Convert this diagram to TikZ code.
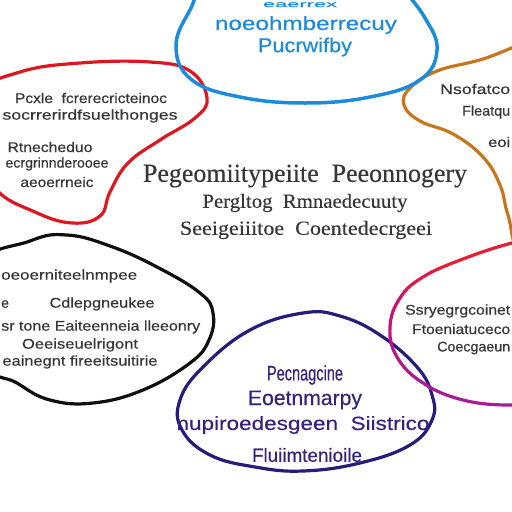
\documentclass[tikz,border=0pt]{standalone}
\usepackage{fontspec}
\setmainfont{Liberation Serif}[FakeBold=0.3]
\setsansfont{Liberation Sans}[FakeBold=0.4]
\usepackage{graphicx}
\definecolor{bluec}{RGB}{28,140,218}
\definecolor{redc}{RGB}{222,22,32}
\definecolor{orangec}{RGB}{200,118,30}
\definecolor{blackc}{RGB}{15,15,15}
\definecolor{navyc}{RGB}{38,28,122}
\definecolor{navytxt}{RGB}{55,35,125}
\definecolor{txtgrey}{RGB}{55,55,55}
\definecolor{mag1}{RGB}{232,30,50}
\definecolor{mag2}{RGB}{222,25,75}
\definecolor{mag3}{RGB}{208,20,100}
\definecolor{mag4}{RGB}{195,20,125}
\definecolor{mag5}{RGB}{180,25,140}
\definecolor{mag6}{RGB}{165,30,150}
\newcommand{\fw}[2]{\resizebox{#1}{\height}{#2}}
\newcommand{\fs}[1]{\fontsize{#1}{#1}\selectfont}
\begin{document}
\begin{tikzpicture}[x=1pt,y=-1pt,
  blob/.style={line width=3.2pt},
  lbl/.style={inner sep=0pt, text=txtgrey, font=\sffamily\fs{14}},
  ctr/.style={inner sep=0pt, text=txtgrey, font=\rmfamily},
  bluetxt/.style={inner sep=0pt, text=bluec, font=\sffamily},
  navytx/.style={inner sep=0pt, text=navytxt, font=\sffamily\fs{19}}]
\useasboundingbox (0,0) rectangle (512,512);
\fill[white] (0,0) rectangle (512,512);
\clip (0,0) rectangle (512,512);

% blobs
\def\magpath{plot[smooth cycle, tension=0.7] coordinates {(545,238) (512,243) (463,259) (423,277) (400,298) (390,327) (397,357) (423,383) (463,400) (510,405) (545,400) (570,320)}}
\draw[blob, redc] plot[smooth cycle, tension=0.7] coordinates {(-25,95) (20,72) (80,63) (150,62) (190,71) (207,98) (195,118) (160,140) (128,163) (110,192) (100,216) (72,223) (35,212) (-5,188) (-25,140)};
\draw[blob, orangec] plot[smooth cycle, tension=0.7] coordinates {(540,40) (483,59) (437,71) (410,88) (404,105) (420,121) (453,134) (483,157) (500,185) (508,215) (522,250) (560,200) (560,60)};
\draw[blob, blackc] plot[smooth cycle, tension=0.7] coordinates {(-25,270) (30,241) (67,235) (110,246) (157,267) (200,293) (213,313) (209,340) (190,363) (143,390) (93,403) (50,400) (17,383) (-15,360)};
\draw[blob, bluec, line width=3.5pt] plot[smooth cycle, tension=0.7] coordinates {(215,-25) (190,10) (176,47) (192,80) (240,97) (305,103) (370,97) (420,80) (437,50) (425,18) (400,-15) (380,-40) (300,-50)};
\draw[blob, navyc] plot[smooth cycle, tension=0.7] coordinates {(303,313) (250,330) (203,367) (180,400) (182,430) (210,455) (255,467) (303,471) (360,463) (410,445) (432,420) (432,395) (417,367) (380,335) (340,316)};
\foreach \ya/\yb/\cc in {0/270/mag1, 270/290/mag2, 290/310/mag3, 310/340/mag4, 340/380/mag5, 380/512/mag6}{
  \begin{scope}
    \clip (380,\ya) rectangle (512,\yb);
    \draw[blob, \cc] \magpath;
  \end{scope}
}

% blue blob text
\node[bluetxt, font=\sffamily\fs{9}, anchor=north] (b1) at (300,2) {\fw{74pt}{eaerrex}};
\node[bluetxt, font=\sffamily\fs{19}] (b2) at (306,25) {\fw{182pt}{noeohmberrecuy}};
\node[bluetxt, font=\sffamily\fs{20}] (b3) at (305,47) {\fw{94pt}{Pucrwifby}};

% red blob text
\node[lbl] (r1) at (91,98) {\fw{152pt}{Pcxle\ \ fcrerecricteinoc}};
\node[lbl] (r2) at (90,116) {\fw{175pt}{socrrerirdfsuelthonges}};
\node[lbl] (r3) at (50,147) {\fw{85pt}{Rtnecheduo}};
\node[lbl] (r4) at (57,164) {\fw{103pt}{ecrgrinnderooee}};
\node[lbl] (r5) at (57,182) {\fw{73pt}{aeoerrneic}};

% orange blob text
\node[lbl, anchor=west] (o1) at (440,89) {\fw{70pt}{Nsofatco}};
\node[lbl, anchor=west] (o2) at (462,112) {\fw{48pt}{Fleatqu}};
\node[lbl, anchor=west] (o3) at (488,142) {\fw{22pt}{eoi}};

% centre text
\node[ctr, font=\rmfamily\fs{26}] (c1) at (305,176) {\fw{324pt}{Pegeomiitypeiite\ \ Peeonnogery}};
\node[ctr, font=\rmfamily\fs{20}] (c2) at (305,203) {\fw{205pt}{Pergltog\ \ Rmnaedecuuty}};
\node[ctr, font=\rmfamily\fs{20}] (c3) at (306,230) {\fw{252pt}{Seeigeiiitoe\ \ Coentedecrgeei}};

% black blob text
\node[lbl, anchor=west] (k1) at (1,276) {\fw{136pt}{oeoerniteelnmpee}};
\node[lbl, anchor=west] (k2) at (1,304) {e};
\node[lbl] (k3) at (102,304) {\fw{105pt}{Cdlepgneukee}};
\node[lbl, anchor=west] (k4) at (1,327) {\fw{199pt}{sr\ tone\ Eaiteenneia\ lleeonry}};
\node[lbl] (k5) at (80,345) {\fw{116pt}{Oeeiseuelrigont}};
\node[lbl] (k6) at (80,362) {\fw{155pt}{eainegnt\ fireeitsuitirie}};

% magenta blob text
\node[lbl, anchor=west] (m1) at (405,311) {\fw{105pt}{Ssryegrgcoinet}};
\node[lbl, anchor=west] (m2) at (412,329) {\fw{98pt}{Ftoeniatuceco}};
\node[lbl, anchor=west] (m3) at (437,348) {\fw{73pt}{Coecgaeun}};

% navy blob text
\node[navytx, font=\sffamily\fs{21}] (n1) at (305,375) {\fw{76pt}{Pecnagcine}};
\node[navytx, font=\sffamily\fs{21}] (n2) at (305,400) {\fw{114pt}{Eoetnmarpy}};
\node[navytx] (n3) at (303,425) {\fw{253pt}{nupiroedesgeen\ \ Siistrico}};
\node[navytx] (n4) at (307,455) {\fw{110pt}{Fluiimtenioile}};
\end{tikzpicture}
\end{document}
